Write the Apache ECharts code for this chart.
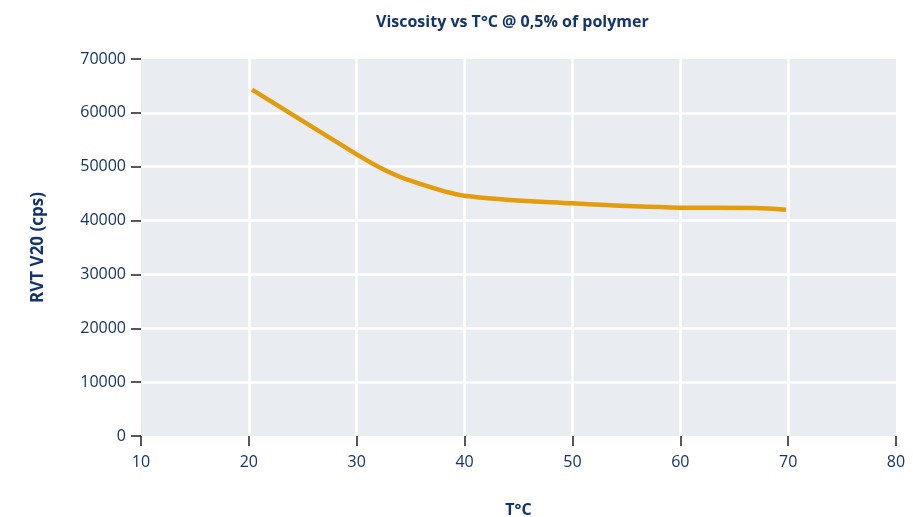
<!DOCTYPE html>
<html><head><meta charset="utf-8">
<script src="https://cdn.jsdelivr.net/npm/echarts@6/dist/echarts.min.js"></script>
<style>html,body{margin:0;padding:0;background:#fff;overflow:hidden;width:913px;height:517px}#c{width:913px;height:517px}</style>
</head><body><div id="c"></div>
<script>
const temperature = [20.3, 30, 32.5, 35, 40, 50, 60, 67, 69.8];
const viscosity = [64300, 52300, 49500, 47400, 44600, 43200, 42400, 42350, 42000];
const xTicks = [10, 20, 30, 40, 50, 60, 70, 80];
const yTicks = [0, 10000, 20000, 30000, 40000, 50000, 60000, 70000];
const title = 'Viscosity vs T°C @ 0,5% of polymer';
const xName = 'T°C';
const yName = 'RVT V20 (cps)';

const navy = '#14346e';
const font = 'Open Sans';
const chart = echarts.init(document.getElementById('c'), null, {renderer: 'canvas'});
chart.setOption({
  animation: false,
  title: {text: title, left: 371, top: 9,
    textStyle: {fontFamily: font, fontSize: 16, fontWeight: 'bold', color: navy}},
  grid: {left: 141, right: 17, top: 59, bottom: 81, show: true,
    outerBoundsMode: 'none', containLabel: false,
    backgroundColor: '#e9ecf1', borderWidth: 0},
  xAxis: {type: 'value', min: xTicks[0], max: xTicks[xTicks.length-1], interval: 10,
    name: xName, nameLocation: 'middle', nameGap: 66,
    nameTextStyle: {fontFamily: font, fontSize: 16, fontWeight: 'bold', color: navy},
    axisLine: {show: false},
    axisTick: {show: true, length: 10, lineStyle: {color: '#222', width: 1.5}},
    axisLabel: {fontFamily: font, fontSize: 16, color: navy, margin: 18,
      formatter: v => String(v)},
    splitLine: {show: true, showMinLine: false, showMaxLine: false, lineStyle: {color: '#fff', width: 2.5}}},
  yAxis: {type: 'value', min: yTicks[0], max: yTicks[yTicks.length-1], interval: 10000,
    name: yName, nameLocation: 'middle', nameGap: 94, nameRotate: 90,
    nameTextStyle: {fontFamily: font, fontSize: 17, fontWeight: 'bold', color: navy},
    axisLine: {show: false},
    axisTick: {show: true, length: 10, lineStyle: {color: '#222', width: 1.5}},
    axisLabel: {fontFamily: font, fontSize: 16, color: navy, margin: 15,
      formatter: v => String(v)},
    splitLine: {show: true, showMinLine: false, showMaxLine: false, lineStyle: {color: '#fff', width: 2.5}}},
  series: [{type: 'line', data: temperature.map((t, i) => [t, viscosity[i]]),
    smooth: 0.3, showSymbol: false, lineStyle: {color: '#e49c0a', width: 4.5}}]
});
</script></body></html>
